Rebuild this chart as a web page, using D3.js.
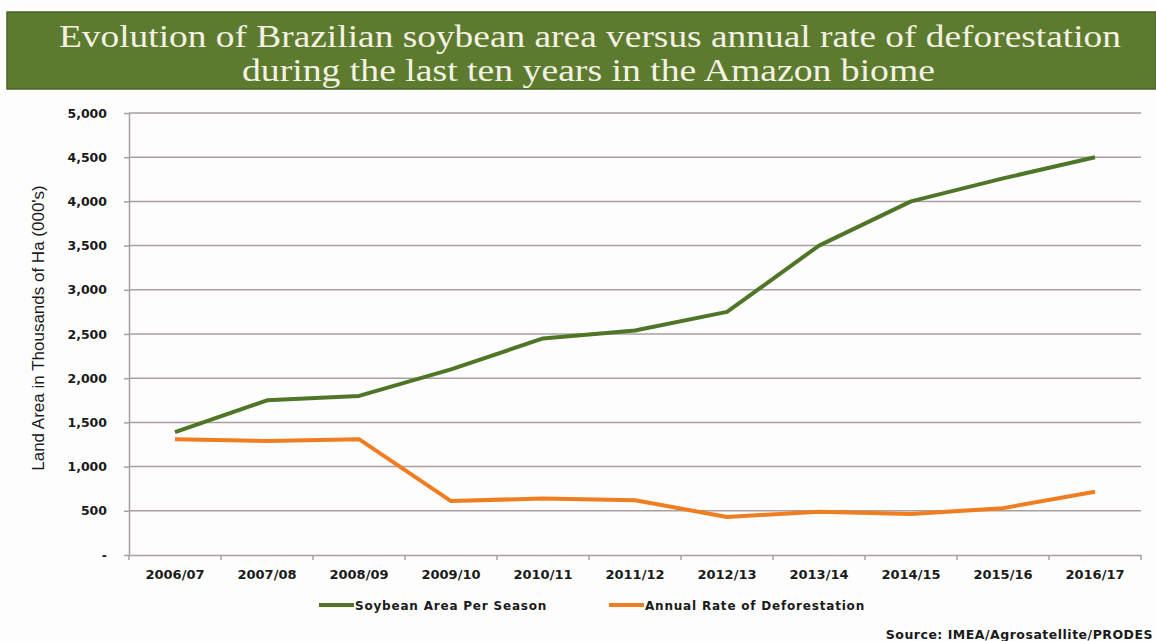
<!DOCTYPE html>
<head>
  <meta charset="utf-8">
  <script src="https://d3js.org/d3.v7.min.js"></script>
  <style>
    body { margin: 0; background: #fdfdfd; }
    .tick text { font-family: "DejaVu Sans", Arial, sans-serif; font-weight: bold; fill: #1a1a1a; }
    .grid line { stroke: #a89f9f; stroke-width: 1.5px; }
    .axis path, .axis line { stroke: #a89f9f; stroke-width: 1.5px; }
  </style>
</head>
<body>
  <div id="vis"></div>
  <script>

    var seasons = ["2006/07", "2007/08", "2008/09", "2009/10", "2010/11", "2011/12",
      "2012/13", "2013/14", "2014/15", "2015/16", "2016/17"];
    var soybean = [1390, 1750, 1800, 2100, 2450, 2540, 2750, 3500, 4000, 4260, 4500];
    var deforestation = [1310, 1290, 1310, 610, 640, 620, 430, 490, 465, 530, 715];
    var yTicks = [0, 500, 1000, 1500, 2000, 2500, 3000, 3500, 4000, 4500, 5000];
    var titleLines = ["Evolution of Brazilian soybean area versus annual rate of deforestation",
      "during the last ten years in the Amazon biome"];

    var width = 1156, height = 641;
    var margin = { top: 113, right: 15, bottom: 86, left: 129 };

    var svg = d3.select("#vis")
      .append("svg")
      .attr("width", width)
      .attr("height", height);

    ////////// title banner //////////

    svg.append("rect")
      .attr("x", 7)
      .attr("y", 12)
      .attr("width", width - 7)
      .attr("height", 77)
      .attr("fill", "#5d7b2f")
      .attr("stroke", "#4a6425")
      .attr("stroke-width", 1.5);

    var titleX = [[59, 1121], [242, 935]];
    svg.selectAll(".title")
      .data(titleLines)
      .enter()
      .append("text")
      .attr("class", "title")
      .attr("x", function (d, i) { return titleX[i][0]; })
      .attr("y", function (d, i) { return 47 + i * 34; })
      .attr("textLength", function (d, i) { return titleX[i][1] - titleX[i][0]; })
      .attr("lengthAdjust", "spacingAndGlyphs")
      .attr("font-family", "'Liberation Serif', serif")
      .attr("font-size", "32px")
      .attr("fill", "#f4f1e4")
      .text(function (d) { return d; });

    ////////// scales //////////

    var x = d3.scaleBand()
      .domain(seasons)
      .range([margin.left, 1141]);

    var y = d3.scaleLinear()
      .domain([0, 5000])
      .range([555, margin.top]);

    // gridlines
    svg.append("g")
      .attr("class", "grid")
      .selectAll("line")
      .data(yTicks.slice(1))
      .enter()
      .append("line")
      .attr("x1", margin.left)
      .attr("x2", 1141)
      .attr("y1", function (d) { return y(d); })
      .attr("y2", function (d) { return y(d); });

    // y axis
    var yAxis = svg.append("g")
      .attr("class", "axis")
      .attr("transform", "translate(" + margin.left + ",0)")
      .call(d3.axisLeft(y)
        .tickValues(yTicks)
        .tickSize(5)
        .tickSizeOuter(0)
        .tickPadding(17)
        .tickFormat(function (d) { return d === 0 ? "-" : d3.format(",")(d); }));
    yAxis.selectAll("text").attr("font-size", "12.5px");

    // x axis
    var xAxis = svg.append("g")
      .attr("class", "axis")
      .attr("transform", "translate(0," + y(0) + ")")
      .call(d3.axisBottom(x).tickSize(0).tickSizeOuter(0).tickPadding(15));
    xAxis.selectAll("text").attr("font-size", "13px");
    xAxis.selectAll(".sep")
      .data(d3.range(seasons.length + 1))
      .enter()
      .append("line")
      .attr("class", "sep")
      .attr("x1", function (d) { return margin.left + d * x.step(); })
      .attr("x2", function (d) { return margin.left + d * x.step(); })
      .attr("y1", 0)
      .attr("y2", 5);

    // y axis title
    svg.append("text")
      .attr("transform", "translate(44," + 328 + ") rotate(-90)")
      .attr("text-anchor", "middle")
      .attr("font-family", "'Liberation Sans', Arial, sans-serif")
      .attr("font-size", "17px")
      .attr("fill", "#1a1a1a")
      .text("Land Area in Thousands of Ha (000's)");

    ////////// lines //////////

    var line = d3.line()
      .x(function (d, i) { return x(seasons[i]) + x.bandwidth() / 2; })
      .y(function (d) { return y(d); });

    var series = [
      { name: "Soybean Area Per Season", values: soybean, color: "#4f7627" },
      { name: "Annual Rate of Deforestation", values: deforestation, color: "#f07d20" }
    ];

    svg.selectAll(".series")
      .data(series)
      .enter()
      .append("path")
      .attr("class", "series")
      .attr("fill", "none")
      .attr("stroke", function (d) { return d.color; })
      .attr("stroke-width", 4)
      .attr("stroke-linejoin", "round")
      .attr("d", function (d) { return line(d.values); });

    ////////// legend //////////

    var legendX = [319, 609];
    var legend = svg.selectAll(".legend")
      .data(series)
      .enter()
      .append("g")
      .attr("class", "legend")
      .attr("transform", function (d, i) { return "translate(" + legendX[i] + ",605)"; });

    legend.append("line")
      .attr("x1", 0)
      .attr("x2", 35)
      .attr("stroke", function (d) { return d.color; })
      .attr("stroke-width", 4);

    legend.append("text")
      .attr("x", 36)
      .attr("y", 5)
      .attr("font-family", "'DejaVu Sans', Arial, sans-serif")
      .attr("font-weight", "bold")
      .attr("font-size", "12px")
      .attr("letter-spacing", "0.8px")
      .attr("fill", "#1a1a1a")
      .text(function (d) { return d.name; });

    // source line (clipped in the original; kept fully visible here)
    svg.append("text")
      .attr("x", 1153)
      .attr("y", 639)
      .attr("text-anchor", "end")
      .attr("font-family", "'DejaVu Sans', Arial, sans-serif")
      .attr("font-weight", "bold")
      .attr("font-size", "12.5px")
      .attr("letter-spacing", "0.5px")
      .attr("fill", "#1a1a1a")
      .text("Source: IMEA/Agrosatellite/PRODES");

  </script>
</body>
